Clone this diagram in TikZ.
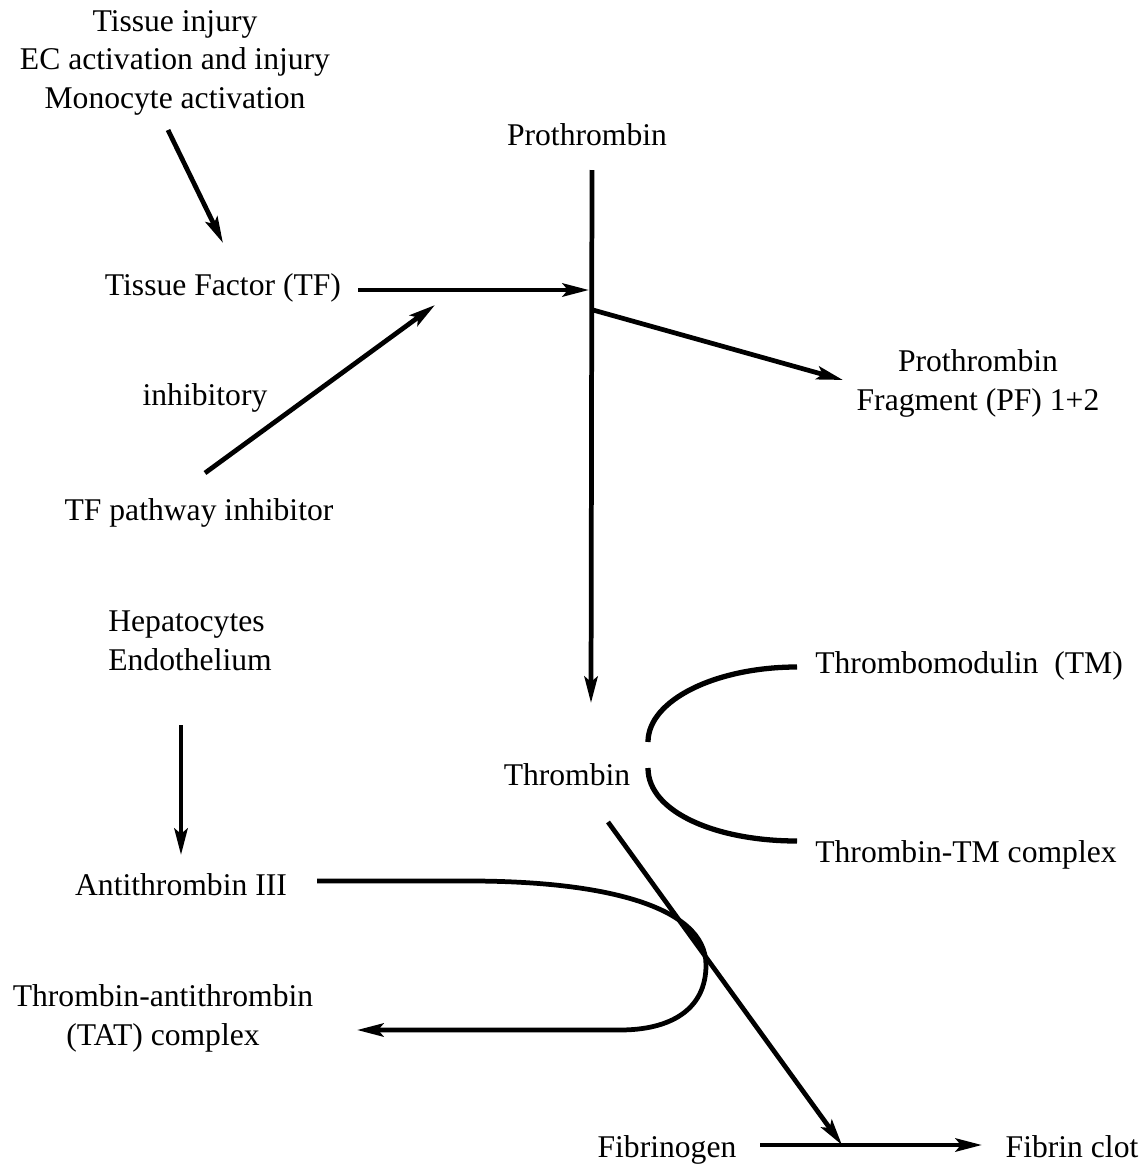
\documentclass[tikz,border=0pt]{standalone}
\usepackage{fontspec}
\setmainfont{Liberation Serif}
\usetikzlibrary{arrows.meta}
\tikzset{
  lbl/.style={font=\fontsize{18}{21.9}\selectfont, inner sep=0pt, anchor=base},
  mlbl/.style={lbl, align=center},
  arr/.style={line width=2.7pt, -{Stealth[length=15pt,width=7.5pt,inset=3pt]}},
  ln/.style={line width=3pt}
}
\begin{document}
\begin{tikzpicture}[x=0.02cm,y=-0.02cm]
\useasboundingbox (0,0) rectangle (1142,1170);
% labels
\node[mlbl] (cause) at (175,108) {Tissue injury\\EC activation and injury\\Monocyte activation};
\node[lbl] (tf) at (223,295) {Tissue Factor (TF)};
\node[lbl] (inhib) at (205,405) {inhibitory};
\node[lbl] (tfpi) at (199,520) {TF pathway inhibitor};
\node[lbl, align=left, anchor=base west] (hep) at (108,670) {Hepatocytes\\Endothelium};
\node[lbl] (at3) at (181,895) {Antithrombin III};
\node[mlbl] (tat) at (163,1045) {Thrombin-antithrombin\\(TAT) complex};
\node[lbl] (pt) at (587,145) {Prothrombin};
\node[mlbl] (pf) at (978,410) {Prothrombin\\Fragment (PF) 1+2};
\node[lbl, anchor=base west] (tm) at (815,673) {Thrombomodulin\ \ (TM)};
\node[lbl] (thr) at (567,785) {Thrombin};
\node[lbl, anchor=base west] (ttm) at (815,862) {Thrombin-TM complex};
\node[lbl] (fgn) at (667,1157) {Fibrinogen};
\node[lbl] (fib) at (1072,1157) {Fibrin clot};
% line ends
\coordinate (cause-s) at (168,130);
\coordinate (cause-e) at (223,243);
\coordinate (tf-s) at (358,290);
\coordinate (tf-e) at (589,290);
\coordinate (tfpi-s) at (205,473);
\coordinate (tfpi-e) at (435,305);
\coordinate (pt-s) at (592,170);
\coordinate (pt-e) at (591,703);
\coordinate (pf-s) at (593,310);
\coordinate (pf-e) at (843,380);
\coordinate (hep-s) at (181,725);
\coordinate (hep-e) at (181,855);
\coordinate (tm-s) at (648,742);
\coordinate (tm-e) at (797,667);
\coordinate (ttm-s) at (648,768);
\coordinate (ttm-e) at (797,841);
\coordinate (thr-s) at (608,822);
\coordinate (fib-j) at (842,1145);
\coordinate (fgn-s) at (760,1145);
\coordinate (fib-e) at (982,1145);
\coordinate (at3-s) at (317,881);
\coordinate (tat-e) at (357,1030);
% arrows
\draw[arr] (cause-s) -- (cause-e);
\draw[arr] (tf-s) -- (tf-e);
\draw[arr] (tfpi-s) -- (tfpi-e);
\draw[arr] (pt-s) -- (pt-e);
\draw[arr] (pf-s) -- (pf-e);
\draw[arr] (hep-s) -- (hep-e);
\draw[ln] (tm-s) .. controls (648,700) and (716,667) .. (tm-e);
\draw[ln] (ttm-s) .. controls (648,812) and (716,841) .. (ttm-e);
\draw[arr] (thr-s) -- (fib-j);
\draw[arr] (fgn-s) -- (fib-e);
\draw[ln, arr] (at3-s) -- (470,881) .. controls (600,881) and (706,905) .. (706,965)
  .. controls (706,1010) and (670,1030) .. (620,1030) -- (tat-e);
\end{tikzpicture}
\end{document}
